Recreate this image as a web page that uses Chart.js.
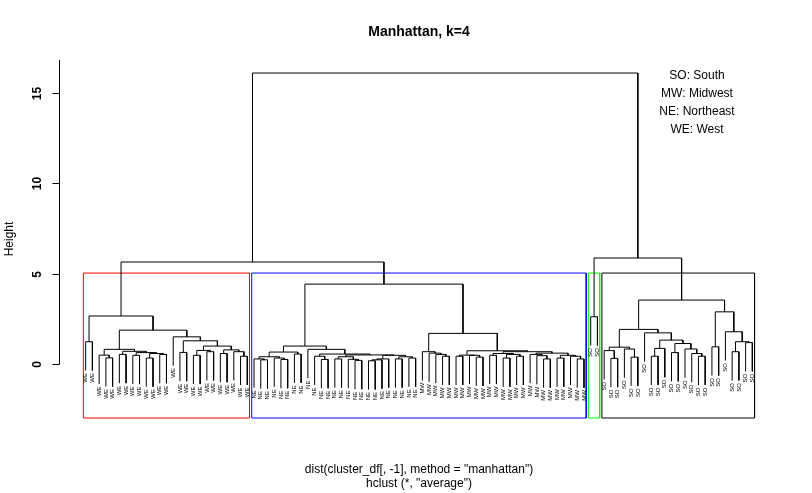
<!DOCTYPE html>
<html>
<head>
<meta charset="utf-8">
<script src="https://cdn.jsdelivr.net/npm/chart.js@4/dist/chart.umd.min.js"></script>
<style>
  html, body { margin: 0; padding: 0; background: #fff; }
  #wrap { position: relative; width: 812px; height: 493px; }
</style>
</head>
<body>
<div id="wrap"><canvas id="dendroChart"></canvas></div>
<script>
// tree parts: a merge is [height, left, right], a leaf is its region code
const westTree = [2.67,
  [1.25, 'WE', 'WE'],
  [1.89,
    [0.83,
      [0.51, 'WE', [0.36, 'WE', 'WE']],
      [0.72,
        [0.55, 'WE', 'WE'],
        [0.65, [0.5, 'WE', 'WE'], [0.6, [0.35, 'WE', 'WE'], [0.55, 'WE', 'WE']]]]],
    [1.52, 'WE',
      [1.30,
        [0.66, 'WE', 'WE'],
        [1.01,
          [0.77, [0.5, 'WE', 'WE'], [0.7, 'WE', 'WE']],
          [0.8, [0.6, 'WE', 'WE'], [0.7, 'WE', [0.45, 'WE', 'WE']]]]]]]];

const northeastTree = [1.01,
  [0.68,
    [0.42, [0.3, 'NE', [0.25, 'NE', 'NE']], [0.35, 'NE', [0.27, 'NE', 'NE']]],
    [0.57, 'NE', 'NE']],
  [0.83, 'NE',
    [0.57,
      [0.45, 'NE', [0.27, 'NE', 'NE']],
      [0.52,
        [0.42, [0.3, 'NE', 'NE'], [0.28, 'NE', [0.22, 'NE', 'NE']]],
        [0.5, [0.3, [0.25, [0.2, 'NE', 'NE'], 'NE'], 'NE'], [0.42, [0.3, 'NE', 'NE'], [0.35, 'NE', 'NE']]]]]]];

const midwestTree = [1.71,
  [0.7, 'MW', [0.62, 'MW', [0.55, 'MW', [0.45, 'MW', 'MW']]]],
  [0.75,
    [0.51, [0.45, 'MW', 'MW'], [0.5, 'MW', [0.4, 'MW', 'MW']]],
    [0.7,
      [0.6, [0.5, 'MW', 'MW'], [0.55, [0.35, 'MW', 'MW'], [0.45, 'MW', 'MW']]],
      [0.62,
        [0.55, 'MW', [0.48, 'MW', [0.3, 'MW', 'MW']]],
        [0.5, [0.35, 'MW', 'MW'], [0.45, 'MW', [0.3, 'MW', 'MW']]]]]]];

const southPair = [2.63, 'SO', 'SO'];

const southTree = [3.55,
  [1.93,
    [0.95, [0.76, 'SO', [0.33, 'SO', 'SO']], [0.85, 'SO', [0.4, 'SO', 'SO']]],
    [1.74, 'SO',
      [1.34,
        [0.88, [0.45, 'SO', 'SO'], 'SO'],
        [1.15, [0.65, 'SO', 'SO'], [0.85, 'SO', [0.6, 'SO', [0.45, 'SO', 'SO']]]]]]],
  [2.9,
    [0.97, 'SO', 'SO'],
    [1.8, 'SO', [1.25, [0.7, 'SO', 'SO'], [1.2, 'SO', 'SO']]]]];

// NE+MW, WE+(NE,MW), SO pair+SO, top
const upperHeights = [4.43, 5.65, 5.87, 16.08];

const yTicks = [0, 5, 10, 15];
const legendLines = ['SO: South', 'MW: Midwest', 'NE: Northeast', 'WE: West'];
const rectColors = ['#ff0000', '#0000ff', '#00ff00', '#000000'];
const k = 4;

const fullTree = [upperHeights[3],
  [upperHeights[1], westTree, [upperHeights[0], northeastTree, midwestTree]],
  [upperHeights[2], southPair, southTree]];

// all merge heights
function collectHeights(node, out) {
  if (typeof node === 'string') return out;
  out.push(node[0]);
  collectHeights(node[1], out);
  collectHeights(node[2], out);
  return out;
}
const heights = collectHeights(fullTree, []).sort((a, b) => b - a);
const hang = 0.1 * (heights[0] - heights[heights.length - 1]);
const cutHeight = (heights[k - 2] + heights[k - 1]) / 2;

let leafLabels = [];
let leafEnds = [];
let treePoints = [];

function place(node) {
  if (typeof node === 'string') {
    leafLabels.push(node);
    return { x: leafLabels.length, leaf: true };
  }
  const h = node[0];
  const l = place(node[1]);
  const r = place(node[2]);
  const lb = l.leaf ? h - hang : l.h;
  const rb = r.leaf ? h - hang : r.h;
  if (l.leaf) leafEnds[l.x - 1] = lb;
  if (r.leaf) leafEnds[r.x - 1] = rb;
  treePoints.push({ x: l.x, y: lb }, { x: l.x, y: h }, { x: r.x, y: h }, { x: r.x, y: rb }, { x: l.x, y: null });
  return { x: (l.x + r.x) / 2, h: h, leaf: false };
}
place(fullTree);

function countLeaves(node) {
  return typeof node === 'string' ? 1 : countLeaves(node[1]) + countLeaves(node[2]);
}
function clusters(node, start) {
  if (typeof node === 'string' || node[0] < cutHeight) {
    return [[start, start + countLeaves(node) - 1]];
  }
  const left = clusters(node[1], start);
  return left.concat(clusters(node[2], start + countLeaves(node[1])));
}
const clusterRanges = clusters(fullTree, 1);

const n = leafLabels.length;
const xMin = 1 - 0.04 * (n - 1), xMax = n + 0.04 * (n - 1);
const yMin = -2.96, yMax = 16.8;

let datasets = [{
  data: treePoints,
  showLine: true,
  borderColor: '#000000',
  borderWidth: 1,
  pointRadius: 0,
  pointHoverRadius: 0,
  spanGaps: false,
  clip: false
}];
clusterRanges.forEach(function(rg, i) {
  const x0 = rg[0] - 1 + 0.66, x1 = rg[1] + 0.33;
  datasets.push({
    data: [{ x: x0, y: yMin }, { x: x0, y: cutHeight }, { x: x1, y: cutHeight }, { x: x1, y: yMin }, { x: x0, y: yMin }],
    showLine: true,
    borderColor: rectColors[i],
    borderWidth: 1,
    pointRadius: 0,
    pointHoverRadius: 0,
    clip: false
  });
});

const FONT = '"Liberation Sans", Arial, Helvetica, sans-serif';

const decorations = {
  id: 'decorations',
  afterDraw: function(chart) {
    const ctx = chart.ctx;
    const xs = chart.scales.x, ys = chart.scales.y;
    const area = chart.chartArea;
    ctx.save();
    ctx.fillStyle = '#000';
    ctx.strokeStyle = '#000';
    ctx.lineWidth = 1;

    // leaf labels, rotated
    ctx.font = '6px ' + FONT;
    ctx.textAlign = 'right';
    ctx.textBaseline = 'middle';
    leafLabels.forEach(function(lab, i) {
      const px = xs.getPixelForValue(i + 1);
      const py = ys.getPixelForValue(leafEnds[i]) + 2.5;
      ctx.save();
      ctx.translate(px, py);
      ctx.rotate(-Math.PI / 2);
      ctx.fillText(lab, 0, 0);
      ctx.restore();
    });

    // y axis
    const ax = Math.round(area.left) + 0.5;
    ctx.beginPath();
    ctx.moveTo(ax, ys.getPixelForValue(0));
    ctx.lineTo(ax, area.top);
    ctx.stroke();
    ctx.font = 'bold 12px ' + FONT;
    ctx.textAlign = 'center';
    ctx.textBaseline = 'middle';
    yTicks.forEach(function(t) {
      const py = Math.round(ys.getPixelForValue(t)) + 0.5;
      ctx.beginPath();
      ctx.moveTo(ax, py);
      ctx.lineTo(ax - 7, py);
      ctx.stroke();
      ctx.save();
      ctx.translate(38, py);
      ctx.rotate(-Math.PI / 2);
      ctx.fillText(String(t), 0, 0);
      ctx.restore();
    });
    ctx.font = '12px ' + FONT;
    ctx.save();
    ctx.translate(10, (area.top + area.bottom) / 2);
    ctx.rotate(-Math.PI / 2);
    ctx.fillText('Height', 0, 0);
    ctx.restore();

    // title and bottom texts
    const cx = (area.left + area.right) / 2;
    ctx.font = 'bold 14px ' + FONT;
    ctx.fillText('Manhattan, k=4', cx, 32);
    ctx.font = '12px ' + FONT;
    ctx.fillText('dist(cluster_df[, -1], method = "manhattan")', cx, 470);
    ctx.fillText('hclust (*, "average")', cx, 484);

    // region key
    legendLines.forEach(function(line, i) {
      ctx.fillText(line, 697, 76 + i * 18);
    });
    ctx.restore();
  }
};

new Chart(document.getElementById('dendroChart'), {
  type: 'scatter',
  data: { datasets: datasets },
  options: {
    responsive: true,
    maintainAspectRatio: false,
    animation: false,
    events: [],
    layout: { padding: { left: 59, right: 33, top: 60, bottom: 75 } },
    scales: {
      x: { type: 'linear', min: xMin, max: xMax, display: false },
      y: { type: 'linear', min: yMin, max: yMax, display: false }
    },
    plugins: { legend: { display: false }, tooltip: { enabled: false } }
  },
  plugins: [decorations]
});
</script>
</body>
</html>
